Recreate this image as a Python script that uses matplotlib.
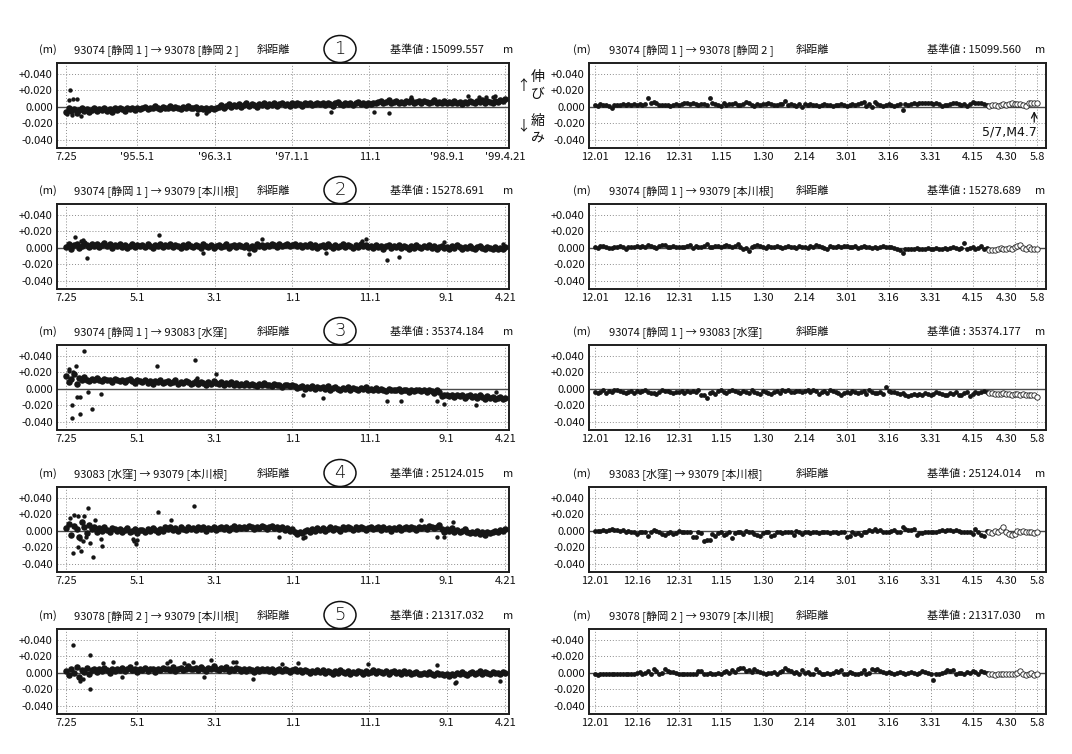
import numpy as np
import pandas as pd
import matplotlib.pyplot as plt
from matplotlib.patches import Ellipse
from matplotlib.transforms import ScaledTranslation

plt.rcParams['font.family'] = ['Noto Sans CJK JP', 'DejaVu Sans']

W, H = 1072, 754

# ------------------------------------------------------------------
# Panel texts
# ------------------------------------------------------------------
pair_names = [
    '93074 [静岡 1 ] → 93078 [静岡 2 ]',
    '93074 [静岡 1 ] → 93079 [本川根]',
    '93074 [静岡 1 ] → 93083 [水窪]',
    '93083 [水窪] → 93079 [本川根]',
    '93078 [静岡 2 ] → 93079 [本川根]',
]
base_left = ['15099.557', '15278.691', '35374.184', '25124.015', '21317.032']
base_right = ['15099.560', '15278.689', '35374.177', '25124.014', '21317.030']
circle_nums = ['1', '2', '3', '4', '5']

y_ticks = [0.04, 0.02, 0.0, -0.02, -0.04]
y_tick_labels = ['+0.040', '+0.020', '0.000', '-0.020', '-0.040']

long_tick_dates = ['1994-07-25', '1995-05-01', '1996-03-01', '1997-01-01',
                   '1997-11-01', '1998-09-01', '1999-04-21']
long_tick_labels_top = ['7.25', "'95.5.1", "'96.3.1", "'97.1.1", '11.1', "'98.9.1", "'99.4.21"]
long_tick_labels = ['7.25', '5.1', '3.1', '1.1', '11.1', '9.1', '4.21']

short_tick_dates = ['1998-12-01', '1998-12-16', '1998-12-31', '1999-01-15', '1999-01-30',
                    '1999-02-14', '1999-03-01', '1999-03-16', '1999-03-31', '1999-04-15',
                    '1999-04-30', '1999-05-08']
short_tick_labels = ['12.01', '12.16', '12.31', '1.15', '1.30', '2.14', '3.01', '3.16',
                     '3.31', '4.15', '4.30', '5.8']

# ------------------------------------------------------------------
# Long-term series (mm), one reading every 10 days from 1994-07-25
# ------------------------------------------------------------------
long_start = '1994-07-25'

long_1 = [-6, -2, -5, -3, -7, -4, -2, -5, -3, -6,
          -4, -1, -5, -3, -4, -2, -5, -3, -6, -2,
          -4, -2, -3, -5, -1, -3, -2, -4, -1, -3,
          -2, 0, -3, -1, -2, 1, -1, -3, 0, -2,
          -1, 1, -2, 0, -1, -3, 0, -2, 1, -1,
          -2, 0, -3, -1, -3, -2, -4, -1, -3, -2,
          0, 2, -1, 1, 3, 0, 2, 1, 3, 0,
          2, 4, 1, 3, 2, 0, 3, 2, 4, 1,
          3, 2, 4, 1, 3, 5, 2, 3, 1, 4,
          2, 4, 3, 1, 4, 3, 5, 2, 3, 4,
          3, 5, 2, 4, 3, 1, 4, 6, 3, 2,
          4, 3, 5, 2, 4, 6, 3, 4, 2, 5,
          3, 5, 4, 6, 7, 5, 6, 8, 5, 6,
          7, 5, 6, 4, 7, 6, 8, 5, 6, 7,
          5, 7, 6, 4, 6, 8, 5, 6, 4, 7,
          5, 6, 4, 7, 5, 6, 3, 6, 5, 7,
          6, 5, 7, 6, 8, 5, 7, 6, 4, 7,
          6, 8, 7, 9]
long_2 = [1, 4, -2, 3, 5, 0, 2, 6, 3, 1,
          4, 2, 5, 1, 3, 6, 2, 4, 0, 3,
          2, 4, 1, 3, 0, 2, 5, 1, 3, 2,
          3, 1, 4, 2, 0, 3, 2, 5, 1, 3,
          2, 4, 1, 3, 2, 0, 3, 1, 4, 2,
          1, 3, 2, 0, 4, 2, 1, 3, 0, 2,
          3, 1, 2, 4, 0, 2, 3, 1, 3, 2,
          1, 3, 0, 2, -1, 4, 2, 3, 1, 3,
          2, 4, 3, 1, 4, 2, 3, 5, 2, 3,
          4, 2, 3, 1, 3, 2, 4, 1, 3, 0,
          2, 3, 1, 4, 2, 0, 3, 1, 2, 4,
          1, 3, 2, 0, 3, 1, 4, 2, 3, 1,
          2, 0, 3, 1, 2, -1, 2, 3, 0, 2,
          1, 3, 0, 2, 1, -1, 2, 0, 3, 1,
          0, 2, 1, 3, 0, 2, -1, 1, 2, 0,
          1, -1, 2, 0, 3, 1, -1, 1, 0, 2,
          0, -1, 1, 2, 0, -2, 1, 0, -1, 1,
          -1, 0, -2, 1]
long_3 = [15, 8, 12, 18, 6, 13, 10, 14, 11, 9,
          12, 10, 13, 11, 9, 12, 10, 11, 8, 12,
          10, 9, 11, 8, 10, 12, 9, 7, 10, 9,
          8, 10, 7, 9, 6, 9, 8, 10, 7, 8,
          9, 7, 8, 10, 6, 8, 7, 9, 8, 6,
          7, 9, 6, 8, 7, 5, 8, 6, 9, 7,
          6, 8, 5, 7, 6, 8, 4, 7, 5, 6,
          5, 7, 4, 6, 5, 3, 6, 5, 7, 4,
          5, 3, 6, 4, 5, 2, 4, 5, 3, 4,
          3, 1, 2, 3, 0, 2, 1, 3, 0, 2,
          1, 2, 0, 3, -1, 1, 2, 0, -2, 1,
          0, 2, -1, 1, 0, -2, 1, 0, 2, -1,
          0, -1, 1, -2, 0, -1, -3, 0, -2, -1,
          -2, 0, -3, -1, -2, -4, -1, -3, -2, -1,
          -3, -2, -4, -1, -3, -5, -2, -4, -9, -8,
          -7, -9, -8, -10, -7, -9, -8, -11, -9, -8,
          -10, -9, -11, -8, -10, -12, -9, -11, -10, -12,
          -11, -10, -12, -11]
long_4 = [3, 8, -5, 6, 2, -8, 10, 4, -3, 7,
          2, 5, -2, 3, 0, 4, 1, -1, 3, 2,
          0, 2, -2, 1, 3, -1, 0, 2, -3, 1,
          1, -1, 2, 0, 3, 1, -2, 2, 0, 4,
          2, 4, 1, 3, 0, 5, 2, 1, 4, 2,
          3, 1, 4, 2, 5, 0, 3, 2, 4, 1,
          3, 5, 2, 4, 1, 3, 6, 2, 4, 3,
          5, 3, 6, 4, 2, 5, 3, 6, 4, 2,
          4, 6, 3, 5, 2, 4, 1, 3, 0, 2,
          -2, -4, -1, -3, 0, 1, -1, 2, 0, 3,
          1, 3, 0, 2, 4, 1, 3, 2, 0, 4,
          2, 4, 3, 1, 5, 2, 4, 3, 1, 3,
          4, 2, 3, 5, 1, 4, 2, 3, 0, 3,
          2, 4, 1, 3, 5, 2, 4, 3, 1, 4,
          3, 5, 2, 6, 4, 3, 5, 7, 2, -2,
          2, 0, 3, -1, 1, -2, 0, 2, -1, -3,
          -1, -3, 0, -4, -2, -5, -1, -3, -2, 0,
          -1, 1, 0, 2]
long_5 = [2, -3, 5, 0, 7, -5, 3, 1, 6, -2,
          3, 5, 1, 4, 2, 6, 3, 0, 4, 2,
          5, 3, 6, 2, 4, 7, 3, 5, 1, 4,
          3, 6, 2, 5, 4, 1, 5, 3, 6, 4,
          5, 3, 7, 2, 4, 6, 3, 5, 8, 4,
          4, 6, 3, 7, 5, 2, 6, 4, 8, 5,
          3, 6, 4, 7, 2, 5, 3, 6, 4, 2,
          4, 2, 5, 3, 1, 4, 2, 5, 3, 4,
          2, 4, 1, 3, 5, 2, 4, 3, 1, 3,
          4, 2, 3, 1, 3, 2, 0, 2, 1, 3,
          1, 3, 0, 2, 1, -1, 2, 0, 3, 1,
          0, 2, -1, 1, 0, 2, 1, -1, 2, 0,
          1, 3, 0, 2, 1, 0, 2, -1, 1, 2,
          0, 1, -1, 2, 0, 1, -2, 0, 1, -1,
          -1, 0, -2, 1, -1, -3, 0, -2, -1, -3,
          -2, -4, -1, -3, 0, -2, 1, -1, -3, 0,
          1, -1, 0, 2, -1, 1, 0, -2, 1, 0,
          0, -1, 1, 0]

# scattered readings off the main band (date, mm)
out_dates_1 = ['1994-08-07', '1994-08-04', '1994-08-22', '1994-09-06', '1994-07-29',
               '1994-08-16', '1994-09-22', '1995-12-20', '1996-01-25', '1997-06-01',
               '1997-11-20', '1998-01-15', '1998-04-15', '1998-11-25', '1999-01-05',
               '1999-02-05', '1999-03-01', '1999-03-10']
out_vals_1 = [20, 8, 9, 9, -9, -10, -11, -9, -8, -6, -6, -7, 12, 13, 12, 12, 12, 13]

out_dates_2 = ['1994-08-27', '1994-09-20', '1994-09-28', '1994-10-15', '1995-07-27',
               '1996-01-15', '1996-07-14', '1996-09-04', '1997-10-18', '1997-10-01',
               '1998-01-09', '1998-02-27', '1998-08-20', '1999-04-12', '1997-05-15']
out_vals_2 = [13, 8, 9, -13, 15, -6, -8, 11, 10, 8, -15, -11, 7, 5, -6]

out_dates_3 = ['1994-08-16', '1994-08-16', '1994-09-18', '1994-09-15', '1994-09-05',
               '1994-11-04', '1994-10-19', '1994-12-10', '1994-10-02', '1994-09-02',
               '1994-08-06', '1994-08-04', '1994-08-22', '1995-07-19', '1995-12-13',
               '1996-03-07', '1995-12-20', '1997-02-10', '1997-05-03', '1998-01-09',
               '1998-03-06', '1998-08-22', '1998-07-25', '1998-12-24', '1999-03-15']
out_vals_3 = [-36, -20, -31, -10, -10, -24, -4, -6, 46, 27, 22, 24, 20, 27, 35,
              18, 13, -8, -11, -15, -15, -18, -15, -20, -4]

out_dates_4 = ['1994-08-07', '1994-08-24', '1994-09-08', '1994-10-02', '1994-10-20',
               '1994-11-14', '1994-08-20', '1994-09-20', '1994-09-08', '1994-11-07',
               '1994-12-11', '1994-09-16', '1994-09-28', '1994-10-12', '1994-10-25',
               '1994-12-10', '1995-04-13', '1995-04-24', '1995-05-01', '1995-04-18',
               '1995-07-23', '1995-12-12', '1995-09-10', '1996-11-11', '1997-02-10',
               '1997-02-20', '1998-09-25', '1998-05-25', '1998-07-25', '1998-08-22']
out_vals_4 = [15, 19, 18, 18, 28, 13, -27, -24, -20, -32, -18, -10, -12, -8, -15,
              -10, -10, -16, -11, -12, 23, 30, 13, -8, -9, -8, 11, 13, -8, -7]

out_dates_5 = ['1994-12-15', '1995-01-23', '1995-04-25', '1995-08-25', '1995-09-08',
               '1995-11-02', '1995-12-07', '1996-02-14', '1996-05-11', '1996-05-25',
               '1996-11-22', '1997-01-25', '1997-10-25', '1998-07-25', '1998-10-03',
               '1998-10-10', '1999-03-30', '1996-07-30', '1995-03-01', '1996-01-20',
               '1994-08-22', '1994-10-25', '1994-10-25', '1994-09-16', '1994-09-28']
out_vals_5 = [12, 13, 12, 12, 14, 12, 13, 15, 13, 13, 11, 12, 10, 9, -12, -11, -10,
              -7, -5, -5, 34, 22, -20, -10, -8]

# ------------------------------------------------------------------
# Recent daily series (mm): final solutions 1998-12-01 .. 1999-04-20,
# rapid solutions (open circles) .. 1999-05-08
# ------------------------------------------------------------------
short_start = '1998-12-01'
short_end = '1999-05-08'

short_1 = [2, 1, 3, 2, 2, 1, -1, 2, 2, 2, 3, 2, 3, 2, 3,
           2, 3, 2, 3, 10, 5, 6, 5, 2, 2, 2, 2, 1, 2, 3,
           2, 3, 5, 4, 3, 4, 3, 2, 3, 3, 2, 10, 5, 3, 2,
           1, 4, 2, 3, 3, 5, 2, 2, 3, 6, 4, 2, 1, 3, 2,
           3, 3, 4, 3, 2, 2, 3, 3, 7, 2, 3, 2, 1, 3, 0,
           3, 2, 3, 2, 2, 1, 2, 3, 2, 2, 1, 2, 2, 3, 2,
           1, 2, 3, 2, 3, 4, 6, 1, 3, 0, 6, 3, 2, 1, 2,
           3, 2, 1, 2, 3, -4, 3, 2, 3, 5, 3, 5, 4, 4, 4,
           4, 3, 4, 3, 1, 2, 2, 3, 4, 5, 3, 2, 3, 1, 3,
           6, 5, 5, 4, 3, 2]
short_open_1 = [1, 2, 2, 1, 2, 3, 2, 3, 4, 3, 3, 3, 2, 1, 5, 5, 4, 4]

short_2 = [1, 0, 2, 2, 1, 0, 0, 1, 1, 2, 1, -1, 1, 1, 1,
           2, 1, 2, 1, 3, 2, 1, 0, 2, 3, 3, 1, 1, 2, 1,
           1, 1, 1, 2, 3, 0, 2, 1, 1, 2, 4, 1, 1, 2, 2,
           1, 2, 3, 2, 1, 2, 5, 1, -1, 0, -4, 1, 2, 3, 2,
           1, 0, 2, 1, 1, 2, 1, 0, 1, 2, 1, 1, 0, 2, 1,
           1, 0, 2, 1, 3, 2, 1, 0, -1, 2, 1, 1, 2, 1, 2,
           2, 1, 1, 2, 0, 1, 2, 1, 1, 0, 1, 0, 1, 2, 1,
           1, 1, 0, -1, -3, -6, -2, -1, -1, -1, 0, -1, -1, -2, 0,
           -1, -1, 0, -1, -2, 0, -1, 0, 1, 0, -1, 0, 6, -1, 0,
           1, -1, 0, 2, -1, 0]
short_open_2 = [-3, -3, -3, -2, 0, -1, -2, 0, -1, 1, 2, 3, 0, -2, 1, -2, -2, -2]

short_3 = [-4, -5, -4, -2, -5, -3, -4, -2, -1, -3, -4, -5, -4, -3, -5,
           -3, -4, -3, -2, -4, -5, -5, -6, -4, -2, -3, -3, -4, -5, -4,
           -4, -3, -5, -3, -4, -3, -4, -2, -7, -8, -11, -5, -4, -6, -3,
           -1, -4, -5, -3, -2, -3, -4, -5, -3, -4, -5, -2, -4, -5, -6,
           -3, -4, -5, -6, -4, -3, -5, -2, -3, -1, -4, -4, -3, -3, -4,
           -3, -2, -4, -2, -3, -6, -4, -3, -5, -2, -3, -4, -5, -7, -5,
           -4, -5, -3, -4, -5, -4, -3, -6, -2, -4, -5, -5, -4, -6, 2,
           -3, -4, -4, -5, -6, -5, -7, -9, -7, -6, -8, -6, -7, -5, -6,
           -7, -6, -4, -5, -6, -7, -8, -5, -6, -4, -7, -8, -5, -4, -9,
           -6, -4, -5, -4, -3, -4]
short_open_3 = [-5, -5, -6, -6, -6, -5, -6, -6, -7, -6, -6, -7, -6, -7, -7, -8, -8, -10]

short_4 = [0, 0, 0, 1, 0, 1, 2, 1, 1, 0, 1, -1, 0, -1, -2,
           -4, -2, -1, -2, -6, -1, 1, 0, -2, -4, -5, -3, -2, -4, -3,
           0, -1, -2, -2, -1, -7, -8, -2, -3, -12, -11, -11, -4, -6, -3,
           -2, -5, -4, -1, -9, -3, -1, -2, -4, 0, -1, -2, -4, -5, -6,
           -3, -1, -2, -6, -5, -2, -1, -3, -2, -1, -1, -5, 0, -2, -4,
           -1, -2, -3, -2, -1, -3, -2, -1, -2, -3, -2, -1, -3, -2, -1,
           -7, -6, -2, -4, -3, -5, -1, -2, 1, 0, 2, 0, 1, -1, -2,
           -1, 0, 1, -1, -1, 4, 2, 1, 1, 2, -5, -3, -3, -2, -2,
           -1, -1, -2, 0, 1, 0, 1, 1, 0, 1, 0, -2, -2, -2, -1,
           -4, 2, -1, -5, -6, 0]
short_open_4 = [-1, -3, 0, -2, 1, 4, -2, -4, -5, -4, 0, -1, 0, -2, -1, -2, -3, -2]

short_5 = [-2, -3, -1, -1, -1, -1, -1, -1, -1, -2, -1, -1, -1, -2, -1,
           0, 1, -1, 0, 2, -1, 4, 2, -2, 0, 5, 2, 1, 1, 0,
           -1, -1, -2, -1, -1, -2, -1, 2, 2, -2, -1, 0, -1, -2, 0,
           -1, 1, 2, 0, 3, 1, 5, 6, 6, 2, 3, 1, 4, 2, 1,
           0, -1, 0, 0, 1, -1, 1, 2, 6, 3, 2, 0, 1, -1, 3,
           0, 1, -1, -1, 5, 1, -1, -2, 0, -1, 0, 2, 1, 3, -1,
           -1, 1, 0, -1, -2, 0, 3, -1, 0, 5, 3, 4, 2, 1, 0,
           1, 0, -1, 0, 1, 0, -1, 0, 1, 0, -1, 0, 2, 1, 0,
           -1, -9, -2, -1, 0, 1, 3, 2, 3, -1, 0, 0, -1, 1, 0,
           2, 1, -1, 2, 1, 0]
short_open_5 = [-1, -2, -3, -1, -2, -2, -1, -2, -1, -1, 0, 2, -1, -3, -2, 0, -3, -2]

long_series = [long_1, long_2, long_3, long_4, long_5]
out_dates = [out_dates_1, out_dates_2, out_dates_3, out_dates_4, out_dates_5]
out_vals = [out_vals_1, out_vals_2, out_vals_3, out_vals_4, out_vals_5]
short_series = [short_1, short_2, short_3, short_4, short_5]
short_open = [short_open_1, short_open_2, short_open_3, short_open_4, short_open_5]

# ------------------------------------------------------------------
# Layout (pixel positions of the boxes)
# ------------------------------------------------------------------
tops = [63, 204, 345, 487, 629]
box_h = 85
left_x, left_w = 57, 452
right_x, right_w = 589, 457

fig = plt.figure(figsize=(W / 100, H / 100), dpi=100)
fig.patch.set_facecolor('white')


def fx(x):
    return x / W


def fy(y):
    return 1 - y / H


def make_axes(x0, top, w):
    return fig.add_axes([fx(x0), fy(top + box_h), w / W, box_h / H])


def style(ax):
    ax.set_ylim(-0.050, 0.053)
    ax.set_yticks(y_ticks)
    ax.set_yticklabels(y_tick_labels)
    ax.grid(True, linestyle=(0, (1, 2)), color='#8c8c8c', linewidth=0.7)
    ax.axhline(0, color='#4a4a4a', linewidth=1.0, zorder=2)
    ax.tick_params(length=0, labelsize=8, pad=3, colors='#111111')
    for s in ax.spines.values():
        s.set_linewidth(1.4)
        s.set_color('#1e1e1e')


txt = dict(fontsize=8, color='#111111', va='center')
dot = '#161616'

for i in range(5):
    top = tops[i]
    ty = top - 13

    # ---- long-term panel ----
    ax = make_axes(left_x, top, left_w)
    vals = np.array(long_series[i]) / 1000
    dates = pd.date_range(long_start, periods=len(vals), freq='10D')
    ax.scatter(dates, vals, s=22, color=dot, linewidths=0, zorder=3)
    ax.scatter(pd.to_datetime(out_dates[i]), np.array(out_vals[i]) / 1000,
               s=10, color=dot, linewidths=0, zorder=3)
    ax.set_xlim(pd.Timestamp('1994-06-18'), pd.Timestamp('1999-05-05'))
    ax.set_xticks(pd.to_datetime(long_tick_dates))
    ax.set_xticklabels(long_tick_labels_top if i == 0 else long_tick_labels)
    style(ax)

    fig.text(fx(48), fy(ty), '(m)', ha='center', **txt)
    fig.text(fx(74), fy(ty), pair_names[i], ha='left', **txt)
    fig.text(fx(257), fy(ty), '斜距離', ha='left', **txt)
    fig.text(fx(390), fy(ty), f'基準値 : {base_left[i]}', ha='left', **txt)
    fig.text(fx(508), fy(ty), 'm', ha='center', **txt)

    # hand-drawn circled panel number
    cy = top - 14
    fig.add_artist(Ellipse((fx(340), fy(cy)), 32 / W, 27 / H, transform=fig.transFigure,
                           fill=False, linewidth=1.1, edgecolor='#111111'))
    fig.text(fx(340), fy(cy), circle_nums[i], ha='center', va='center', fontsize=13,
             color='#111111', family='DejaVu Sans', fontweight='light')

    # ---- recent panel ----
    ax2 = make_axes(right_x, top, right_w)
    v1 = np.array(short_series[i]) / 1000
    d1 = pd.date_range(short_start, periods=len(v1), freq='D')
    v2 = np.array(short_open[i]) / 1000
    d2 = pd.date_range(end=short_end, periods=len(v2), freq='D')
    ax2.scatter(d1, v1, s=12, color=dot, linewidths=0, zorder=3)
    ax2.scatter(d2, v2, s=15, facecolors='white', edgecolors='#222222',
                linewidths=0.6, zorder=3)
    ax2.set_xlim(pd.Timestamp('1998-11-28 22:00'), pd.Timestamp('1999-05-11 05:00'))
    ax2.set_xticks(pd.to_datetime(short_tick_dates))
    ax2.set_xticklabels(short_tick_labels)
    style(ax2)
    lab = ax2.get_xticklabels()[10]
    lab.set_transform(lab.get_transform() + ScaledTranslation(-6 / 72, 0, fig.dpi_scale_trans))

    fig.text(fx(582), fy(ty), '(m)', ha='center', **txt)
    fig.text(fx(609), fy(ty), pair_names[i], ha='left', **txt)
    fig.text(fx(796), fy(ty), '斜距離', ha='left', **txt)
    fig.text(fx(927), fy(ty), f'基準値 : {base_right[i]}', ha='left', **txt)
    fig.text(fx(1040), fy(ty), 'm', ha='center', **txt)

    if i == 0:
        eq = pd.Timestamp('1999-05-07')
        ax2.annotate('', xy=(eq, -0.002), xytext=(eq, -0.022),
                     arrowprops=dict(arrowstyle='->', color='#111111', lw=0.9))
        ax2.text(pd.Timestamp('1999-04-28'), -0.031, '5/7,M4.7', ha='center',
                 va='center', fontsize=9, color='#111111', family='DejaVu Sans')

# stretch / shrink note between the first pair of panels
side = dict(fontsize=10, color='#111111', ha='center', va='center')
fig.text(fx(523), fy(86), '↑', **side)
fig.text(fx(538), fy(77), '伸', **side)
fig.text(fx(538), fy(94), 'び', **side)
fig.text(fx(523), fy(126), '↓', **side)
fig.text(fx(538), fy(121), '縮', **side)
fig.text(fx(538), fy(138), 'み', **side)

fig.savefig('out.png', dpi=100, facecolor='white')
